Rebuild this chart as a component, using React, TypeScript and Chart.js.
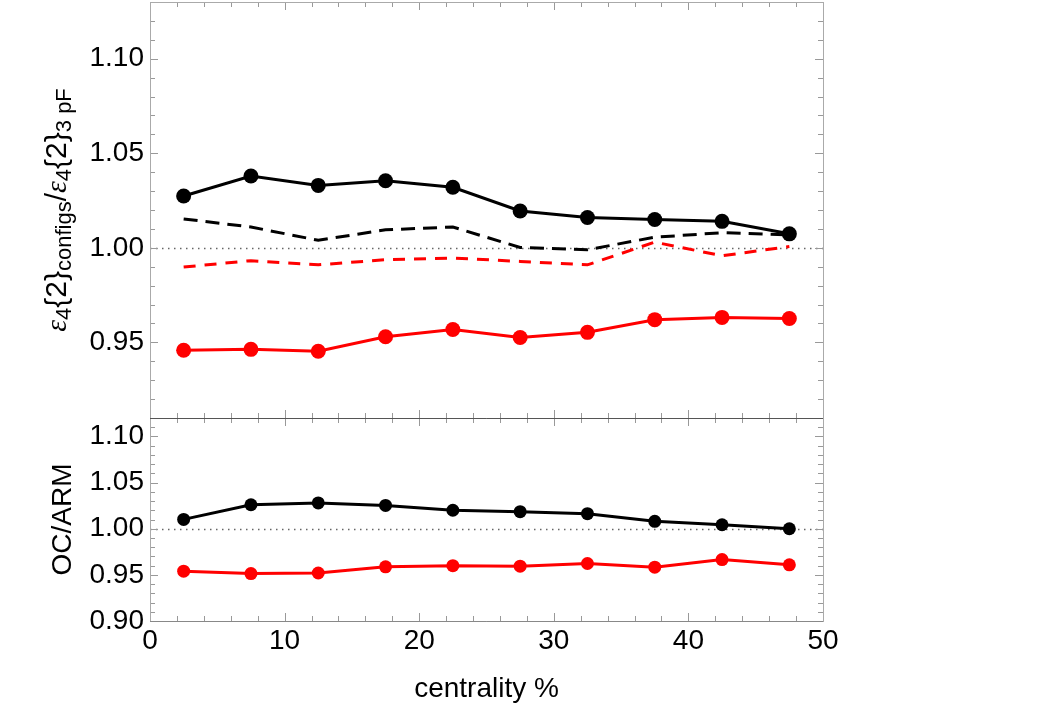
import React, { useEffect, useRef } from "react";
import { Chart, registerables } from "chart.js";

Chart.register(...registerables);

const centrality = [2.5, 7.5, 12.5, 17.5, 22.5, 27.5, 32.5, 37.5, 42.5, 47.5];

// top panel: eps4{2}_configs / eps4{2}_3pF
const topBlackSolid = [1.0274, 1.038, 1.033, 1.0355, 1.032, 1.0195, 1.016, 1.015, 1.014, 1.0074];
const topBlackDashed = [1.0153, 1.011, 1.004, 1.0095, 1.011, 1.0002, 0.999, 1.0056, 1.008, 1.0068];
const topRedDashed = [0.9898, 0.9932, 0.991, 0.9937, 0.9946, 0.9928, 0.991, 1.003, 0.9958, 1.0007];
const topRedSolid = [0.9458, 0.9463, 0.9453, 0.953, 0.9568, 0.9526, 0.9553, 0.962, 0.9632, 0.9626];

// bottom panel: OC/ARM
const botBlack = [1.0101, 1.026, 1.028, 1.0253, 1.02, 1.0185, 1.0163, 1.008, 1.0043, 1.0];
const botRed = [0.954, 0.9514, 0.952, 0.9587, 0.96, 0.9594, 0.9623, 0.9583, 0.9666, 0.9609];

const xTickLabels = ["0", "10", "20", "30", "40", "50"];
const topYTicks = [0.95, 1.0, 1.05, 1.1];
const botYTicks = [0.9, 0.95, 1.0, 1.05, 1.1];

const pts = (ys: number[]) => ys.map((y, i) => ({ x: centrality[i], y }));

const FONT = "Liberation Sans, Arial, sans-serif";

const framePlugin = {
  id: "framePlugin",
  beforeDatasetsDraw(chart: any) {
    const ctx = chart.ctx;
    const x = chart.scales.x;
    const panels = [chart.scales.yTop, chart.scales.yBot];
    ctx.save();
    ctx.strokeStyle = "#666";
    ctx.lineWidth = 1.5;
    ctx.setLineDash([1.5, 4.5]);
    for (const s of panels) {
      const py = Math.round(s.getPixelForValue(1.0)) + 0.5;
      ctx.beginPath();
      ctx.moveTo(x.left, py);
      ctx.lineTo(x.right, py);
      ctx.stroke();
    }
    ctx.setLineDash([]);
    ctx.strokeStyle = "#999";
    ctx.lineWidth = 1;
    for (const s of panels) {
      const top = s.top;
      const bottom = s.bottom;
      for (let v = 0; v <= 50; v += 2) {
        const px = Math.round(x.getPixelForValue(v)) + 0.5;
        const len = v % 10 === 0 ? 8 : 5;
        ctx.beginPath();
        ctx.moveTo(px, top);
        ctx.lineTo(px, top + len);
        ctx.moveTo(px, bottom);
        ctx.lineTo(px, bottom - len);
        ctx.stroke();
      }
      const start = Math.ceil(s.min * 100 - 1e-6);
      const end = Math.floor(s.max * 100 + 1e-6);
      for (let k = start; k <= end; k++) {
        const py = Math.round(s.getPixelForValue(k / 100)) + 0.5;
        const len = k % 5 === 0 ? 8 : 5;
        ctx.beginPath();
        ctx.moveTo(x.left, py);
        ctx.lineTo(x.left + len, py);
        ctx.moveTo(x.right, py);
        ctx.lineTo(x.right - len, py);
        ctx.stroke();
      }
    }
    ctx.strokeStyle = "#aaa";
    ctx.lineWidth = 1;
    for (const s of panels) {
      ctx.strokeRect(Math.round(x.left) + 0.5, Math.round(s.top) + 0.5, Math.round(x.right - x.left), Math.round(s.bottom - s.top));
    }
    ctx.strokeStyle = "#555";
    const sep = Math.round(chart.scales.yBot.top) + 0.5;
    ctx.beginPath();
    ctx.moveTo(x.left, sep);
    ctx.lineTo(x.right, sep);
    ctx.stroke();
    ctx.strokeStyle = "#888";
    const bot = Math.round(chart.scales.yBot.bottom) + 0.5;
    ctx.beginPath();
    ctx.moveTo(x.left, bot);
    ctx.lineTo(x.right, bot);
    ctx.stroke();
    ctx.restore();
  },
  afterDraw(chart: any) {
    const ctx = chart.ctx;
    const yTop = chart.scales.yTop;
    const yBot = chart.scales.yBot;
    ctx.save();
    ctx.fillStyle = "#000";
    ctx.textBaseline = "alphabetic";
    const main = 30;
    const sub = 22;
    const segs = [
      { t: "ε", size: main, italic: true, dy: 0 },
      { t: "4", size: sub, italic: false, dy: 5 },
      { t: "{2}", size: main, italic: false, dy: 0 },
      { t: "configs", size: sub, italic: false, dy: 5 },
      { t: "/", size: main, italic: false, dy: 0 },
      { t: "ε", size: main, italic: true, dy: 0 },
      { t: "4", size: sub, italic: false, dy: 5 },
      { t: "{2}", size: main, italic: false, dy: 0 },
      { t: "3 pF", size: sub, italic: false, dy: 5 },
    ];
    const fontFor = (s: any) => `${s.italic ? "italic " : ""}${s.size}px ${s.italic ? "Liberation Serif, serif" : FONT}`;
    let total = 0;
    const widths = segs.map((s) => {
      ctx.font = fontFor(s);
      const w = ctx.measureText(s.t).width;
      total += w;
      return w;
    });
    ctx.translate(66, (yTop.top + yTop.bottom) / 2);
    ctx.rotate(-Math.PI / 2);
    let cx = -total / 2;
    segs.forEach((s, i) => {
      ctx.font = fontFor(s);
      ctx.fillText(s.t, cx, s.dy);
      cx += widths[i];
    });
    ctx.restore();

    ctx.save();
    ctx.fillStyle = "#000";
    ctx.font = `28px ${FONT}`;
    ctx.textAlign = "center";
    ctx.textBaseline = "alphabetic";
    ctx.translate(71, (yBot.top + yBot.bottom) / 2);
    ctx.rotate(-Math.PI / 2);
    ctx.fillText("OC/ARM", 0, 0);
    ctx.restore();
  },
};

export default function App() {
  const ref = useRef<HTMLCanvasElement | null>(null);
  useEffect(() => {
    if (!ref.current) return;
    const lineDs = (data: number[], color: string, axis: string, opts: any) => ({
      data: pts(data),
      borderColor: color,
      backgroundColor: color,
      pointBackgroundColor: color,
      pointBorderColor: color,
      yAxisID: axis,
      borderWidth: 3,
      pointBorderWidth: 0,
      tension: 0,
      ...opts,
    });
    const yTickFont = { size: 28, family: FONT };
    const noPad = (s: any) => {
      s.paddingTop = 0;
      s.paddingBottom = 0;
      s.paddingLeft = 0;
      s.paddingRight = 0;
    };
    const chart = new Chart(ref.current, {
      type: "line",
      data: {
        datasets: [
          lineDs(topBlackSolid, "#000", "yTop", { pointRadius: 7.5 }),
          lineDs(topBlackDashed, "#000", "yTop", { pointRadius: 0, borderDash: [14, 8] }),
          lineDs(topRedDashed, "#ff0000", "yTop", { pointRadius: 0, borderDash: [12, 9], borderWidth: 3 }),
          lineDs(topRedSolid, "#ff0000", "yTop", { pointRadius: 7.5 }),
          lineDs(botBlack, "#000", "yBot", { pointRadius: 6.5 }),
          lineDs(botRed, "#ff0000", "yBot", { pointRadius: 6.5 }),
        ],
      },
      options: {
        responsive: false,
        animation: false,
        events: [],
        layout: { autoPadding: false, padding: { left: 0, right: 227, top: 2, bottom: 0 } },
        plugins: { legend: { display: false }, tooltip: { enabled: false }, title: { display: false } },
        scales: {
          x: {
            type: "linear",
            position: "bottom",
            min: 0,
            max: 50,
            grid: { display: false, drawTicks: false },
            border: { display: false },
            afterBuildTicks: (s: any) => {
              s.ticks = xTickLabels.map((l) => ({ value: Number(l) }));
            },
            ticks: {
              color: "#000",
              font: { size: 28, family: FONT },
              padding: 3,
              maxRotation: 0,
              autoSkip: false,
              callback: (v: any) => String(v),
            },
            title: {
              display: true,
              text: "centrality %",
              color: "#000",
              font: { size: 28, family: FONT },
              padding: { top: 0, bottom: 9 },
            },
            afterFit: (s: any) => {
              s.height = 94;
              noPad(s);
            },
          },
          yBot: {
            type: "linear",
            position: "left",
            stack: "panels",
            stackWeight: 203,
            min: 0.9,
            max: 1.12,
            grid: { display: false, drawTicks: false },
            border: { display: false },
            afterBuildTicks: (s: any) => {
              s.ticks = botYTicks.map((v) => ({ value: v }));
            },
            ticks: {
              color: "#000",
              font: yTickFont,
              padding: 6,
              autoSkip: false,
              callback: (v: any) => Number(v).toFixed(2),
            },
            afterFit: (s: any) => {
              s.width = 150;
              noPad(s);
            },
          },
          yTop: {
            type: "linear",
            position: "left",
            stack: "panels",
            stackWeight: 416,
            min: 0.91,
            max: 1.13,
            grid: { display: false, drawTicks: false },
            border: { display: false },
            afterBuildTicks: (s: any) => {
              s.ticks = topYTicks.map((v) => ({ value: v }));
            },
            ticks: {
              color: "#000",
              font: yTickFont,
              padding: 6,
              autoSkip: false,
              callback: (v: any) => Number(v).toFixed(2),
            },
            afterFit: (s: any) => {
              s.width = 150;
              noPad(s);
            },
          },
        },
      } as any,
      plugins: [framePlugin],
    });
    return () => chart.destroy();
  }, []);
  return (
    <div style={{ position: "fixed", left: 0, top: 0, width: 1050, height: 715, background: "#fff" }}>
      <canvas ref={ref} width={1050} height={715} style={{ width: 1050, height: 715, display: "block" }} />
    </div>
  );
}
